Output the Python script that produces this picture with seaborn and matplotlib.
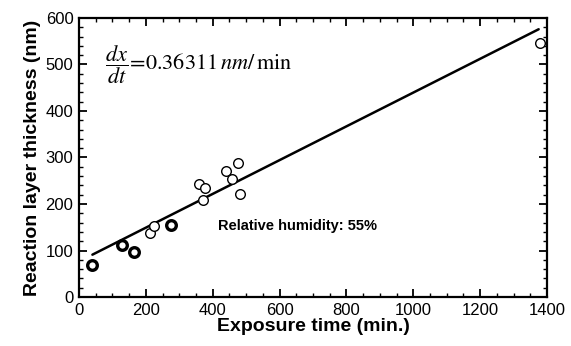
import numpy as np
import pandas as pd
import seaborn as sns
import matplotlib
matplotlib.use("Agg")
import matplotlib.pyplot as plt
from matplotlib.ticker import MultipleLocator

# Data
exposure_time = [40, 128, 164, 211, 223, 274, 360, 377, 372, 439, 459, 475, 482, 1379]
thickness     = [68, 112, 96, 138, 152, 154, 244, 234, 208, 272, 254, 288, 221, 547]
bold_marker   = [True, True, True, False, False, True, False, False, False, False, False, False, False, False]

slope = 0.36311
intercept = 76.5
fit_range = [40, 1375]

x_ticks = [0, 200, 400, 600, 800, 1000, 1200, 1400]
y_ticks = [0, 100, 200, 300, 400, 500, 600]

df = pd.DataFrame({"t": exposure_time, "h": thickness, "bold": bold_marker})

sns.set_theme(style="white")
plt.rcParams['font.family'] = ['Liberation Sans', 'DejaVu Sans']
plt.rcParams['mathtext.fontset'] = 'stix'
plt.rcParams['text.color'] = 'black'
plt.rcParams['axes.labelcolor'] = 'black'
plt.rcParams['xtick.color'] = 'black'
plt.rcParams['ytick.color'] = 'black'

fig = plt.figure(figsize=(5.71, 3.46), dpi=100)
ax = fig.add_axes([0.1384, 0.1416, 0.8196, 0.8064])

fx = np.array(fit_range, dtype=float)
fit_df = pd.DataFrame({"t": fx, "h": intercept + slope * fx})
sns.lineplot(data=fit_df, x="t", y="h", ax=ax, color="black", linewidth=1.8)

sns.scatterplot(data=df[~df["bold"]], x="t", y="h", ax=ax, marker="o",
                facecolor="white", edgecolor="black", linewidth=1.0, s=48, zorder=3)
sns.scatterplot(data=df[df["bold"]], x="t", y="h", ax=ax, marker="o",
                facecolor="white", edgecolor="black", linewidth=2.4, s=48, zorder=3)

ax.set_xlim(0, 1400)
ax.set_ylim(0, 600)
ax.set_xticks(x_ticks)
ax.set_yticks(y_ticks)
ax.xaxis.set_minor_locator(MultipleLocator(50))
ax.yaxis.set_minor_locator(MultipleLocator(20))
ax.tick_params(which="major", direction="in", length=6, width=1.3, top=True, right=True,
               labelsize=12, colors="black", pad=4)
ax.tick_params(which="minor", direction="in", length=3, width=1.0, top=True, right=True)
ax.tick_params(axis="x", which="both", bottom=True)
ax.tick_params(axis="y", which="both", left=True)
for s in ax.spines.values():
    s.set_linewidth(1.6)
    s.set_color("black")

ax.set_xlabel("Exposure time (min.)", fontsize=14, fontweight="bold", labelpad=0)
ax.set_ylabel("Reaction layer thickness (nm)", fontsize=14, fontweight="bold", labelpad=3)

ax.text(78, 499, r'$\dfrac{dx}{dt}\!=\!0.36311\,nm/\,\mathrm{min}$', fontsize=16,
        va="center", ha="left", color="black")
ax.text(416, 153, "Relative humidity: 55%", fontsize=10.5, fontweight="bold",
        va="center", ha="left", color="black")

fig.savefig("out.png", dpi=100)
